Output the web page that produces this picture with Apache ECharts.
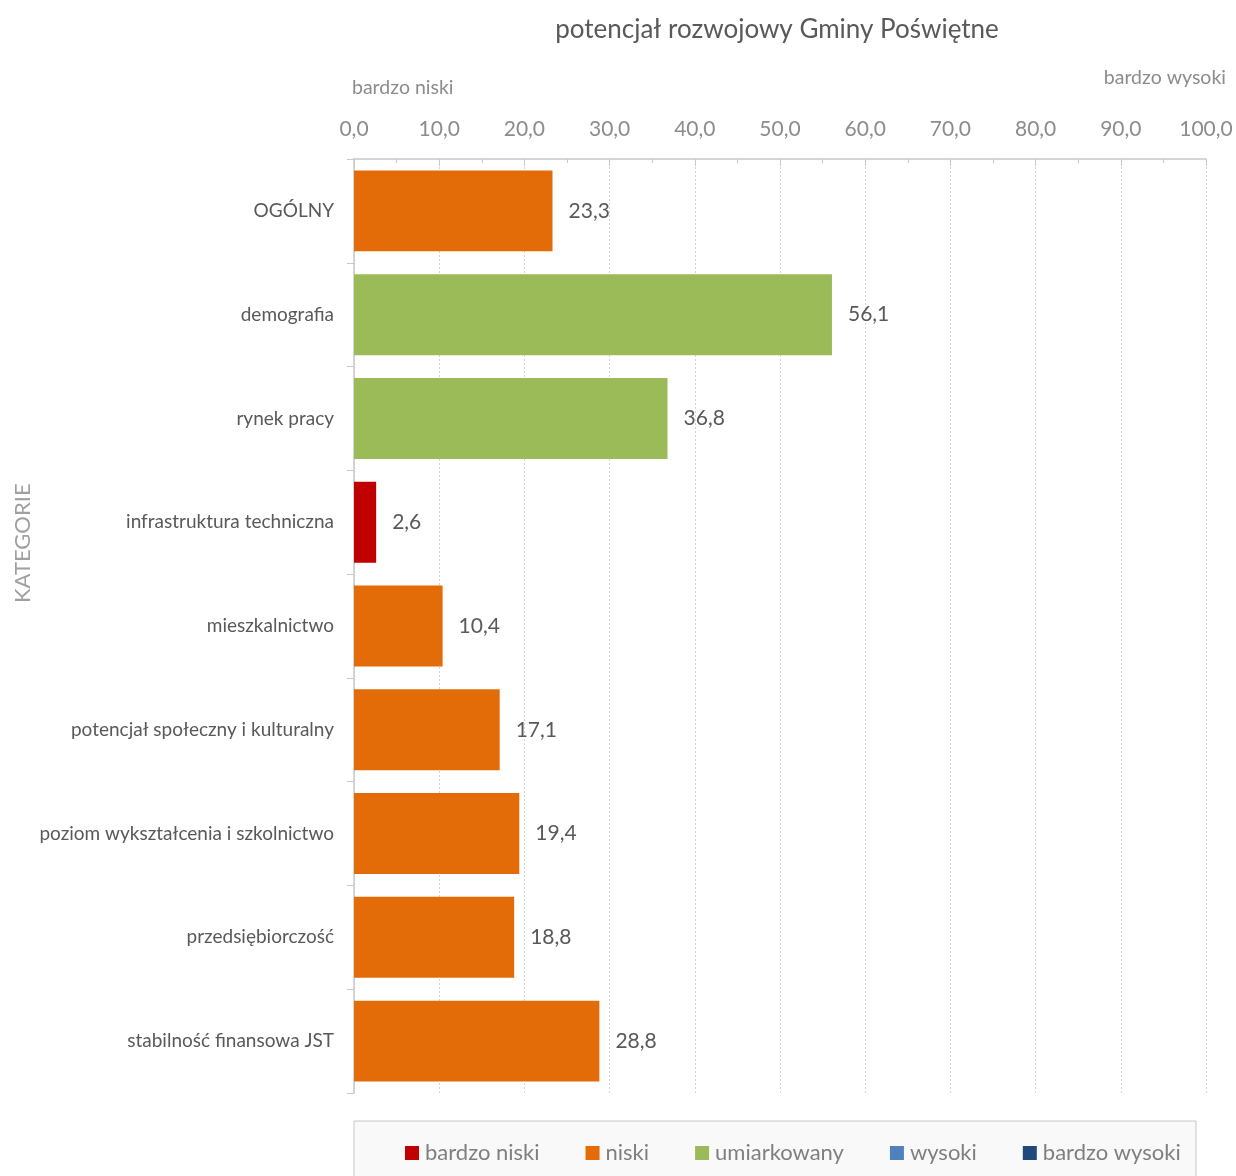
<!DOCTYPE html>
<html>
<head>
<meta charset="utf-8">
<script src="https://cdn.jsdelivr.net/npm/echarts@6/dist/echarts.min.js"></script>
<style>
  html, body { margin: 0; padding: 0; background: #ffffff; }
  #chart { width: 1236px; height: 1176px; }
</style>
</head>
<body>
<div id="chart"></div>
<script>
  var categories = [
    "OGÓLNY",
    "demografia",
    "rynek pracy",
    "infrastruktura techniczna",
    "mieszkalnictwo",
    "potencjał społeczny i kulturalny",
    "poziom wykształcenia i szkolnictwo",
    "przedsiębiorczość",
    "stabilność finansowa JST"
  ];
  var values = [23.3, 56.1, 36.8, 2.6, 10.4, 17.1, 19.4, 18.8, 28.8];
  // class index of each bar: 0 bardzo niski ... 4 bardzo wysoki
  var levels = [1, 2, 2, 0, 1, 1, 1, 1, 1];
  var levelNames = ["bardzo niski", "niski", "umiarkowany", "wysoki", "bardzo wysoki"];
  var levelColors = ["#C00000", "#E36C09", "#9BBB59", "#4F81BD", "#1F497D"];
  var xTicks = [0, 10, 20, 30, 40, 50, 60, 70, 80, 90, 100];

  var fontFamily = "Lato, 'Open Sans', sans-serif";
  var textColor = "#595959";
  var lightText = "#8c8c8c";

  function fmt(v) {
    return v.toFixed(1).replace(".", ",");
  }

  var chart = echarts.init(document.getElementById("chart"), null, {renderer: "canvas"});

  var series = levelNames.map(function(name, li) {
    return {
      name: name,
      type: "bar",
      stack: "total",
      barCategoryGap: "22%",
      itemStyle: {color: levelColors[li]},
      label: {
        show: true,
        position: "right",
        distance: 16,
        color: textColor,
        fontSize: 21,
        fontFamily: fontFamily,
        formatter: function(p) { return fmt(p.value); }
      },
      data: values.map(function(v, i) {
        return levels[i] === li ? v : null;
      })
    };
  });

  var option = {
    backgroundColor: "#ffffff",
    animation: false,
    title: {
      text: "potencjał rozwojowy Gminy Poświętne",
      left: 772,
      textAlign: "center",
      top: 12,
      textStyle: {color: textColor, fontSize: 26, fontWeight: "normal", fontFamily: fontFamily}
    },
    grid: {left: 354, right: 30, top: 159, bottom: 83, containLabel: false},
    legend: {
      top: 1137,
      left: 400,
      width: 830,
      orient: "horizontal",
      itemWidth: 14,
      itemHeight: 14,
      itemGap: 46,
      icon: "rect",
      textStyle: {color: "#7f7f7f", fontSize: 22, fontFamily: fontFamily, padding: [0, 0, 0, 1]},
      data: levelNames
    },
    graphic: [
      {
        type: "rect",
        z: -1,
        shape: {x: 354, y: 1121, width: 842, height: 70},
        style: {fill: "#f9f9f9", stroke: "#c8c8c8", lineWidth: 1}
      },
      {
        type: "text",
        left: 352,
        top: 78,
        style: {text: "bardzo niski", fill: lightText, fontSize: 19.5, fontFamily: fontFamily}
      },
      {
        type: "text",
        right: 10,
        top: 68,
        style: {text: "bardzo wysoki", fill: lightText, fontSize: 19.5, fontFamily: fontFamily}
      },
      {
        type: "text",
        x: 12,
        y: 603,
        rotation: Math.PI / 2,
        style: {text: "KATEGORIE", fill: "#a0a0a0", fontSize: 22, fontFamily: fontFamily}
      }
    ],
    xAxis: {
      type: "value",
      position: "top",
      min: xTicks[0],
      max: xTicks[xTicks.length - 1],
      interval: 10,
      axisLine: {show: true, lineStyle: {color: "#c8c8c8", width: 1.5}},
      axisTick: {show: true, inside: true, length: 7, lineStyle: {color: "#c8c8c8"}},
      minorTick: {show: true, splitNumber: 2, length: 4, lineStyle: {color: "#c8c8c8"}},
      axisLabel: {
        color: lightText,
        fontSize: 21,
        fontFamily: fontFamily,
        margin: 19,
        formatter: function(v) { return fmt(v); }
      },
      splitLine: {show: true, lineStyle: {color: "#d4d4d4", type: [2, 2], width: 1}}
    },
    yAxis: {
      type: "category",
      inverse: true,
      data: categories,
      axisLine: {show: true, lineStyle: {color: "#c8c8c8", width: 1.5}},
      axisTick: {show: true, length: 7, lineStyle: {color: "#c8c8c8"}},
      axisLabel: {color: textColor, fontSize: 19, fontFamily: fontFamily, margin: 20}
    },
    series: series
  };

  chart.setOption(option);
</script>
</body>
</html>
